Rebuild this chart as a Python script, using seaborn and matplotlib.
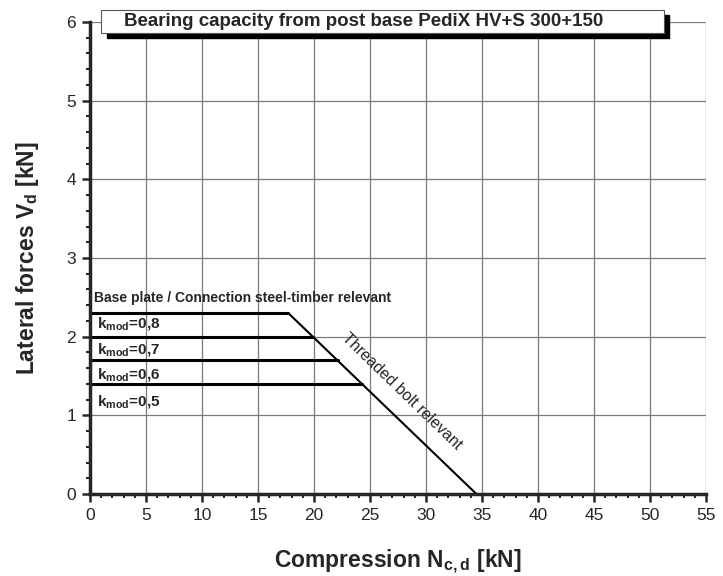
import numpy as np
import pandas as pd
import matplotlib
matplotlib.use("Agg")
import matplotlib.pyplot as plt
from matplotlib.patches import Rectangle
from matplotlib.ticker import MultipleLocator
import seaborn as sns

# capacity levels per k_mod (lateral force V_d in kN) and where they hit the bolt line
kmod_labels = ["0,8", "0,7", "0,6", "0,5"]
v_levels = [2.3, 2.0, 1.7, 1.4]
n_start = [0.0, 0.0, 0.0, 0.0]
n_end = [17.7, 19.9, 22.1, 24.3]
label_v = [2.16, 1.83, 1.51, 1.17]

# threaded bolt line
n_bolt = [17.7, 34.5]
v_bolt = [2.3, 0.0]

sns.set_style("ticks")
plt.rcParams["font.family"] = ["Liberation Sans", "DejaVu Sans"]
plt.rcParams["mathtext.fontset"] = "custom"
plt.rcParams["mathtext.rm"] = "Liberation Sans"
plt.rcParams["mathtext.bf"] = "Liberation Sans:bold"

rows = []
for i, v in enumerate(v_levels):
    rows.append({"N": n_start[i], "V": v, "seg": i})
    rows.append({"N": n_end[i], "V": v, "seg": i})
df_h = pd.DataFrame(rows)
df_b = pd.DataFrame({"N": n_bolt, "V": v_bolt, "seg": 0})

fig = plt.figure(figsize=(7.23, 5.76), dpi=100)
ax = fig.add_axes([0.1245, 0.1424, 0.852, 0.8194])

ax.set_xlim(0, 55)
ax.set_ylim(0, 6)
ax.xaxis.set_major_locator(MultipleLocator(5))
ax.xaxis.set_minor_locator(MultipleLocator(1))
ax.yaxis.set_major_locator(MultipleLocator(1))
ax.yaxis.set_minor_locator(MultipleLocator(0.2))
ax.grid(True, which="major", color="#7a7a7a", linewidth=0.9, zorder=0)

sns.lineplot(data=df_h, x="N", y="V", units="seg", estimator=None, sort=False,
             color="black", linewidth=2.2, ax=ax, zorder=3)
sns.lineplot(data=df_b, x="N", y="V", units="seg", estimator=None, sort=False,
             color="black", linewidth=1.5, ax=ax, zorder=3)

for s in ["top", "right"]:
    ax.spines[s].set_visible(False)
for s in ["left", "bottom"]:
    ax.spines[s].set_linewidth(2.5)
    ax.spines[s].set_zorder(4)
ax.tick_params(which="major", direction="out", length=6, width=1.8, labelsize=12.5, pad=4)
ax.tick_params(which="minor", direction="out", length=3, width=1.5)

ax.set_xlabel(r"Compression N$_{\mathbf{c,d}}$ [kN]", fontsize=16.5, fontweight="bold", labelpad=18)
ax.set_ylabel(r"Lateral forces V$_{\mathbf{d}}$ [kN]", fontsize=16.5, fontweight="bold", labelpad=18)

ax.text(0.4, 2.49, "Base plate / Connection steel-timber relevant",
        fontsize=10, fontweight="bold", va="center", ha="left")
for lab, y in zip(kmod_labels, label_v):
    ax.text(0.6, y, r"k$_{\mathbf{mod}}$=" + lab, fontsize=11, fontweight="bold",
            va="center", ha="left")
ax.text(27.8, 1.30, "Threaded bolt relevant", fontsize=11.5, rotation=-44,
        rotation_mode="anchor", ha="center", va="center")

# title box with shadow
fig.patches.append(Rectangle((107 / 723, 1 - 38 / 576), 562 / 723, 23 / 576,
                             transform=fig.transFigure, facecolor="black",
                             edgecolor="black", zorder=5))
fig.patches.append(Rectangle((101 / 723, 1 - 33 / 576), 563 / 723, 23 / 576,
                             transform=fig.transFigure, facecolor="white",
                             edgecolor="#555555", linewidth=0.8, zorder=6))
fig.text(124 / 723, 1 - 21.5 / 576, "Bearing capacity from post base PediX HV+S 300+150",
         fontsize=13.5, fontweight="bold", va="center", ha="left", zorder=7)

fig.savefig("out.png", dpi=100)
